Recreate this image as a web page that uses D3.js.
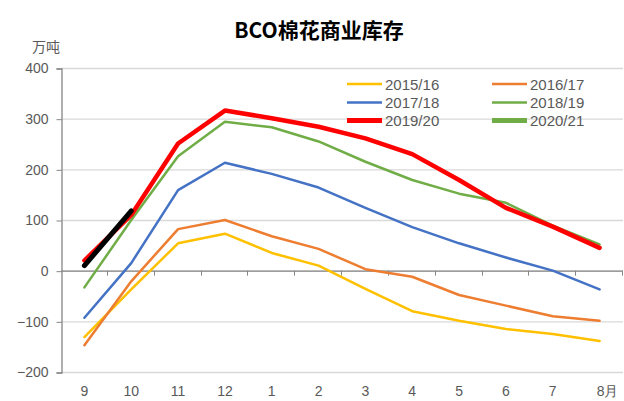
<!DOCTYPE html>
<html><head><meta charset="utf-8">
<script src="https://cdn.jsdelivr.net/npm/d3@7"></script>
<style>
body{margin:0;background:#fff;}
svg{display:block;}
</style></head>
<body><svg id="c" width="624" height="401"></svg>
<script>
const months = ["9","10","11","12","1","2","3","4","5","6","7","8月"];
const seriesNames = ["2015/16","2016/17","2017/18","2018/19","2019/20","2020/21"];
const s2015 = [-131, -37, 54, 73, 35, 10, -36, -80, -99, -115, -125, -139];
const s2016 = [-147, -21, 82, 100, 68, 43, 3, -12, -48, -69, -90, -99];
const s2017 = [-93, 15, 159, 213, 191, 164, 124, 86, 54, 26, 0, -37];
const s2018 = [-33, 100, 226, 294, 283, 255, 215, 179, 152, 134, 89, 52];
const s2019 = [20, 110, 251, 316, 301, 284, 261, 230, 179, 124, 87, 45];
const s2020 = [10, 118];
const yTicks = [-200, -100, 0, 100, 200, 300, 400];
const title = "BCO棉花商业库存";
const unit = "万吨";

const seriesValues = [s2015, s2016, s2017, s2018, s2019, s2020];
const lineColors = ["#FFC000", "#ED7D31", "#4472C4", "#70AD47", "#FF0000", "#000000"];
const legendColors = ["#FFC000", "#ED7D31", "#4472C4", "#70AD47", "#FF0000", "#70AD47"];
const widths = [2.5, 2.5, 2.5, 2.5, 4.5, 5];

const svg = d3.select("#c");
const pLeft = 61, pRight = 623, pTop = 68, pBottom = 372;
const x = d3.scaleBand().domain(months).range([pLeft, pRight]).padding(0);
const y = d3.scaleLinear().domain([-200, 400]).range([pBottom, pTop]);
const textCol = "#595959";
const fnt = "'Liberation Sans Narrow','Liberation Sans',Arial,sans-serif";

// title
svg.append("text").attr("x", 319).attr("y", 38).attr("text-anchor", "middle")
  .attr("font-family", "'Noto Sans CJK SC',sans-serif").attr("font-weight", "bold")
  .attr("font-size", 21).attr("fill", "#000").text(title);
svg.append("text").attr("x", 32).attr("y", 52)
  .attr("font-family", "'Noto Sans CJK SC',sans-serif").attr("font-size", 14)
  .attr("fill", textCol).text(unit);

// gridlines
svg.append("g").selectAll("line").data(yTicks).join("line")
  .attr("x1", pLeft).attr("x2", pRight)
  .attr("y1", d => y(d) + 0.5).attr("y2", d => y(d) + 0.5)
  .attr("stroke", "#d9d9d9").attr("stroke-width", 1.3);

// y axis
const yAxis = d3.axisLeft(y).tickValues(yTicks).tickSize(5).tickPadding(8)
  .tickFormat(d => d < 0 ? "\u2212" + Math.abs(d) : d);
const gy = svg.append("g").attr("transform", `translate(${pLeft + 0.5},0.5)`).call(yAxis);
gy.select(".domain").attr("stroke", "#868686").attr("stroke-width", 1.3);
gy.selectAll(".tick line").attr("stroke", "#868686");
gy.selectAll("text").attr("font-family", fnt).attr("font-size", 14).attr("fill", textCol);

// zero axis line with ticks at category boundaries
svg.append("line").attr("x1", pLeft).attr("x2", pRight)
  .attr("y1", y(0) + 0.5).attr("y2", y(0) + 0.5)
  .attr("stroke", "#868686").attr("stroke-width", 1.3);
const bounds = months.map(m => x(m)).concat([x(months[months.length - 1]) + x.bandwidth()]);
svg.append("g").selectAll("line").data(bounds.slice(1)).join("line")
  .attr("x1", d => Math.round(d) - 0.5).attr("x2", d => Math.round(d) - 0.5)
  .attr("y1", y(0)).attr("y2", y(0) + 5)
  .attr("stroke", "#868686").attr("stroke-width", 1);

// x labels
svg.append("g").selectAll("text").data(months).join("text")
  .attr("x", d => x(d) + x.bandwidth() / 2 + (d === "8月" ? 8 : 0)).attr("y", 396)
  .attr("text-anchor", "middle").attr("font-family", fnt)
  .attr("font-size", 14).attr("fill", textCol).text(d => d);

// lines
const line = d3.line().x((d, i) => x(months[i]) + x.bandwidth() / 2).y(d => y(d));
seriesValues.forEach((vals, k) => {
  svg.append("path").datum(vals).attr("d", line)
    .attr("fill", "none").attr("stroke", lineColors[k]).attr("stroke-width", widths[k])
    .attr("stroke-linejoin", "round").attr("stroke-linecap", "round");
});

// legend
const legX = [347, 492], legY = [84, 102.5, 120.5];
seriesNames.forEach((name, k) => {
  const cx = legX[k % 2], cy = legY[Math.floor(k / 2)];
  svg.append("line").attr("x1", cx).attr("x2", cx + 35).attr("y1", cy).attr("y2", cy)
    .attr("stroke", legendColors[k]).attr("stroke-width", widths[k] === 2.5 ? 2.5 : 5);
  svg.append("text").attr("x", cx + 38).attr("y", cy + 5.5)
    .attr("font-family", fnt).attr("font-size", 15).attr("fill", textCol).text(name);
});
</script></body></html>
